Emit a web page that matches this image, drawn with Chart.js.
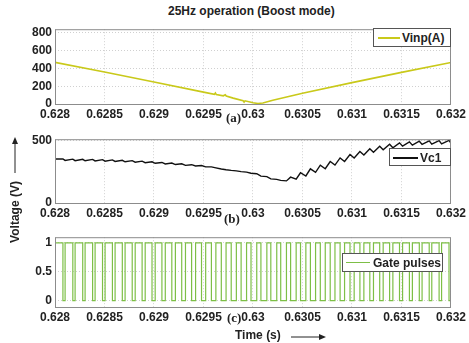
<!DOCTYPE html>
<html>
<head>
<meta charset="utf-8">
<script src="https://cdn.jsdelivr.net/npm/chart.js@4.4.0/dist/chart.umd.min.js"></script>
<style>
    body { margin: 0; width: 469px; height: 343px; background: #fff; position: relative; overflow: hidden;
           font-family: "Liberation Sans", Arial, sans-serif; }
    canvas { position: absolute; left: 0; }
    .txt { position: absolute; font-weight: bold; font-size: 12px; color: #222; white-space: nowrap; line-height: 12px; }
    .lbl { position: absolute; font-family: "Liberation Serif", serif; font-weight: bold; font-size: 13px; color: #222; line-height: 13px; }
    .legend { position: absolute; background: #fff; border: 1px solid #555; box-sizing: border-box; }
    .legend .line { position: absolute; height: 2px; }
    .legend .name { position: absolute; font-weight: bold; font-size: 12px; color: #222; line-height: 12px; white-space: nowrap; }
</style>
</head>
<body>
<canvas id="vinpChart" width="469" height="107" style="top:19px"></canvas>
<canvas id="vc1Chart" width="469" height="96" style="top:129px"></canvas>
<canvas id="gateChart" width="469" height="102" style="top:227px"></canvas>

<div class="txt" style="left:168px;top:5px">25Hz operation (Boost mode)</div>

<div class="legend" style="left:373px;top:28px;width:78px;height:19px">
    <div class="line" style="left:4px;top:8px;width:22px;background:#c9c91a"></div>
    <div class="name" style="left:28px;top:3px">Vinp(A)</div>
</div>
<div class="legend" style="left:389px;top:148px;width:62px;height:18px">
    <div class="line" style="left:3px;top:8px;width:25px;background:#111"></div>
    <div class="name" style="left:30px;top:3px">Vc1</div>
</div>
<div class="legend" style="left:342px;top:253px;width:101px;height:19px">
    <div class="line" style="left:3px;top:8px;width:24px;height:1px;background:#7dbf46"></div>
    <div class="name" style="left:30px;top:3px">Gate pulses</div>
</div>

<div class="lbl" style="left:226px;top:111px">(a)</div>
<div class="lbl" style="left:224px;top:212px">(b)</div>
<div class="lbl" style="left:227px;top:311px">(c)</div>

<div class="txt" style="left:-18px;top:206px;transform:rotate(-90deg);width:66px;text-align:center">Voltage (V)</div>
<svg style="position:absolute;left:10px;top:136px" width="10" height="38">
    <line x1="5" y1="5" x2="5" y2="37" stroke="#222" stroke-width="1"/>
    <path d="M5 1 L2 8 L8 8 Z" fill="#222"/>
</svg>
<div class="txt" style="left:235px;top:329px">Time (s)</div>
<svg style="position:absolute;left:290px;top:332px" width="38" height="10">
    <line x1="1" y1="5" x2="32" y2="5" stroke="#222" stroke-width="1"/>
    <path d="M36 5 L29 2 L29 8 Z" fill="#222"/>
</svg>

<script>
// time axis
const timeTicks = [0.628, 0.6285, 0.629, 0.6295, 0.63, 0.6305, 0.631, 0.6315, 0.632];
const timeTickLabels = ['0.628', '0.6285', '0.629', '0.6295', '0.63', '0.6305', '0.631', '0.6315', '0.632'];

// (a) input voltage
const vinpTicks = [0, 200, 400, 600, 800];
const vinpTime = [0.628, 0.6285, 0.629, 0.6295, 0.62961, 0.62962, 0.62963, 0.6297, 0.62972, 0.62973,
                  0.6298, 0.6299, 0.62991, 0.62992, 0.63, 0.63005, 0.6301, 0.6302, 0.6305, 0.631, 0.6315, 0.632];
const vinpValue = [468, 360, 248, 133, 108, 124, 106, 92, 104, 89,
                   66, 38, 22, 36, 14, 6, 12, 42, 120, 240, 355, 466];

// (b) capacitor voltage, one value per switching period
const vc1Ticks = [0, 500];
const vc1Start = 350;
const vc1End = 486;
const vc1Mean = [345, 343, 342, 341, 339, 337, 334, 331, 327, 322,
                 317, 312, 306, 300, 293, 284, 268, 258, 248, 235,
                 212, 190, 178, 198, 228, 258, 287, 316, 345, 372,
                 396, 418, 438, 454, 466, 474, 479, 482, 484, 485];
const vc1Ripple = [6, 6, 6, 6, 6, 6, 6, 6, 6, 6,
                   6, 6, 6, 5, 5, 4, 3, 2, 2, 2,
                   2, 2, 2, 8, 13, 14, 14, 14, 14, 14,
                   14, 14, 14, 14, 13, 13, 13, 13, 13, 13];

// (c) gate pulses, duty ratio per switching period
const gateTicks = [0, 0.5, 1];
const gateStart = 0.62808;
const gatePeriod = 0.0001;
const gateDuty = [0.22, 0.23, 0.24, 0.25, 0.26, 0.27, 0.28, 0.30, 0.31, 0.32,
                  0.34, 0.36, 0.38, 0.40, 0.42, 0.45, 0.48, 0.52, 0.55, 0.58,
                  0.60, 0.60, 0.58, 0.56, 0.54, 0.52, 0.50, 0.48, 0.45, 0.42,
                  0.40, 0.37, 0.35, 0.33, 0.31, 0.30, 0.28, 0.26, 0.25, 0.23];

// build point lists
const vinpPoints = vinpTime.map((t, i) => ({ x: t, y: vinpValue[i] }));

const vc1Points = [{ x: 0.628, y: vc1Start }];
const gatePoints = [{ x: 0.628, y: 0 }];
gateDuty.forEach((d, k) => {
    const tOn = gateStart + k * gatePeriod;
    const tOff = tOn + d * gatePeriod;
    gatePoints.push({ x: tOn, y: 1 }, { x: tOff, y: 0 });
    vc1Points.push({ x: tOn, y: vc1Mean[k] + vc1Ripple[k] }, { x: tOff, y: vc1Mean[k] - vc1Ripple[k] });
});
vc1Points.push({ x: 0.632, y: vc1End });

const framePlugin = {
    id: 'frame',
    afterDraw(chart) {
        const a = chart.chartArea;
        const ctx = chart.ctx;
        ctx.save();
        ctx.setLineDash([]);
        ctx.strokeStyle = '#8c8c8c';
        ctx.lineWidth = 1;
        ctx.strokeRect(a.left + 0.5, a.top + 0.5, a.right - a.left - 1, a.bottom - a.top);
        ctx.restore();
    }
};

const tickFont = { family: 'Liberation Sans', size: 12, weight: 'bold' };

function makeChart(id, dataset, yMin, yMax, yTicks) {
    return new Chart(document.getElementById(id).getContext('2d'), {
        type: 'line',
        data: { datasets: [dataset] },
        options: {
            responsive: false,
            animation: false,
            devicePixelRatio: 1,
            layout: { padding: { left: 0, right: 16, top: 5, bottom: 0 } },
            plugins: { legend: { display: false }, tooltip: { enabled: false } },
            scales: {
                x: {
                    type: 'linear',
                    min: 0.628,
                    max: 0.632,
                    afterBuildTicks: s => { s.ticks = timeTicks.map(v => ({ value: v })); },
                    afterFit: s => { s.height = 22; },
                    grid: { color: '#d0d0d0', drawTicks: false },
                    border: { display: false, dash: [1, 2] },
                    ticks: {
                        autoSkip: false, maxRotation: 0, padding: 3,
                        color: '#222', font: tickFont,
                        callback: (v, i) => timeTickLabels[i]
                    }
                },
                y: {
                    min: yMin,
                    max: yMax,
                    afterBuildTicks: s => { s.ticks = yTicks.map(v => ({ value: v })); },
                    afterFit: s => { s.width = 55; },
                    grid: { color: '#d0d0d0', drawTicks: false },
                    border: { display: false, dash: [1, 2] },
                    ticks: { padding: 3, color: '#222', font: tickFont, callback: v => String(v) }
                }
            }
        },
        plugins: [framePlugin]
    });
}

makeChart('vinpChart', {
    data: vinpPoints, borderColor: '#c9c91a', borderWidth: 1.6,
    pointRadius: 0, tension: 0, fill: false, clip: 0
}, 0, 840, vinpTicks);

makeChart('vc1Chart', {
    data: vc1Points, borderColor: '#111', borderWidth: 1.4,
    pointRadius: 0, tension: 0, fill: false, clip: 0
}, 0, 508, vc1Ticks);

makeChart('gateChart', {
    data: gatePoints, borderColor: '#7dbf46', borderWidth: 1.2, stepped: 'after',
    pointRadius: 0, tension: 0, fill: false, clip: 0
}, -0.11, 1.1, gateTicks);
</script>
</body>
</html>
